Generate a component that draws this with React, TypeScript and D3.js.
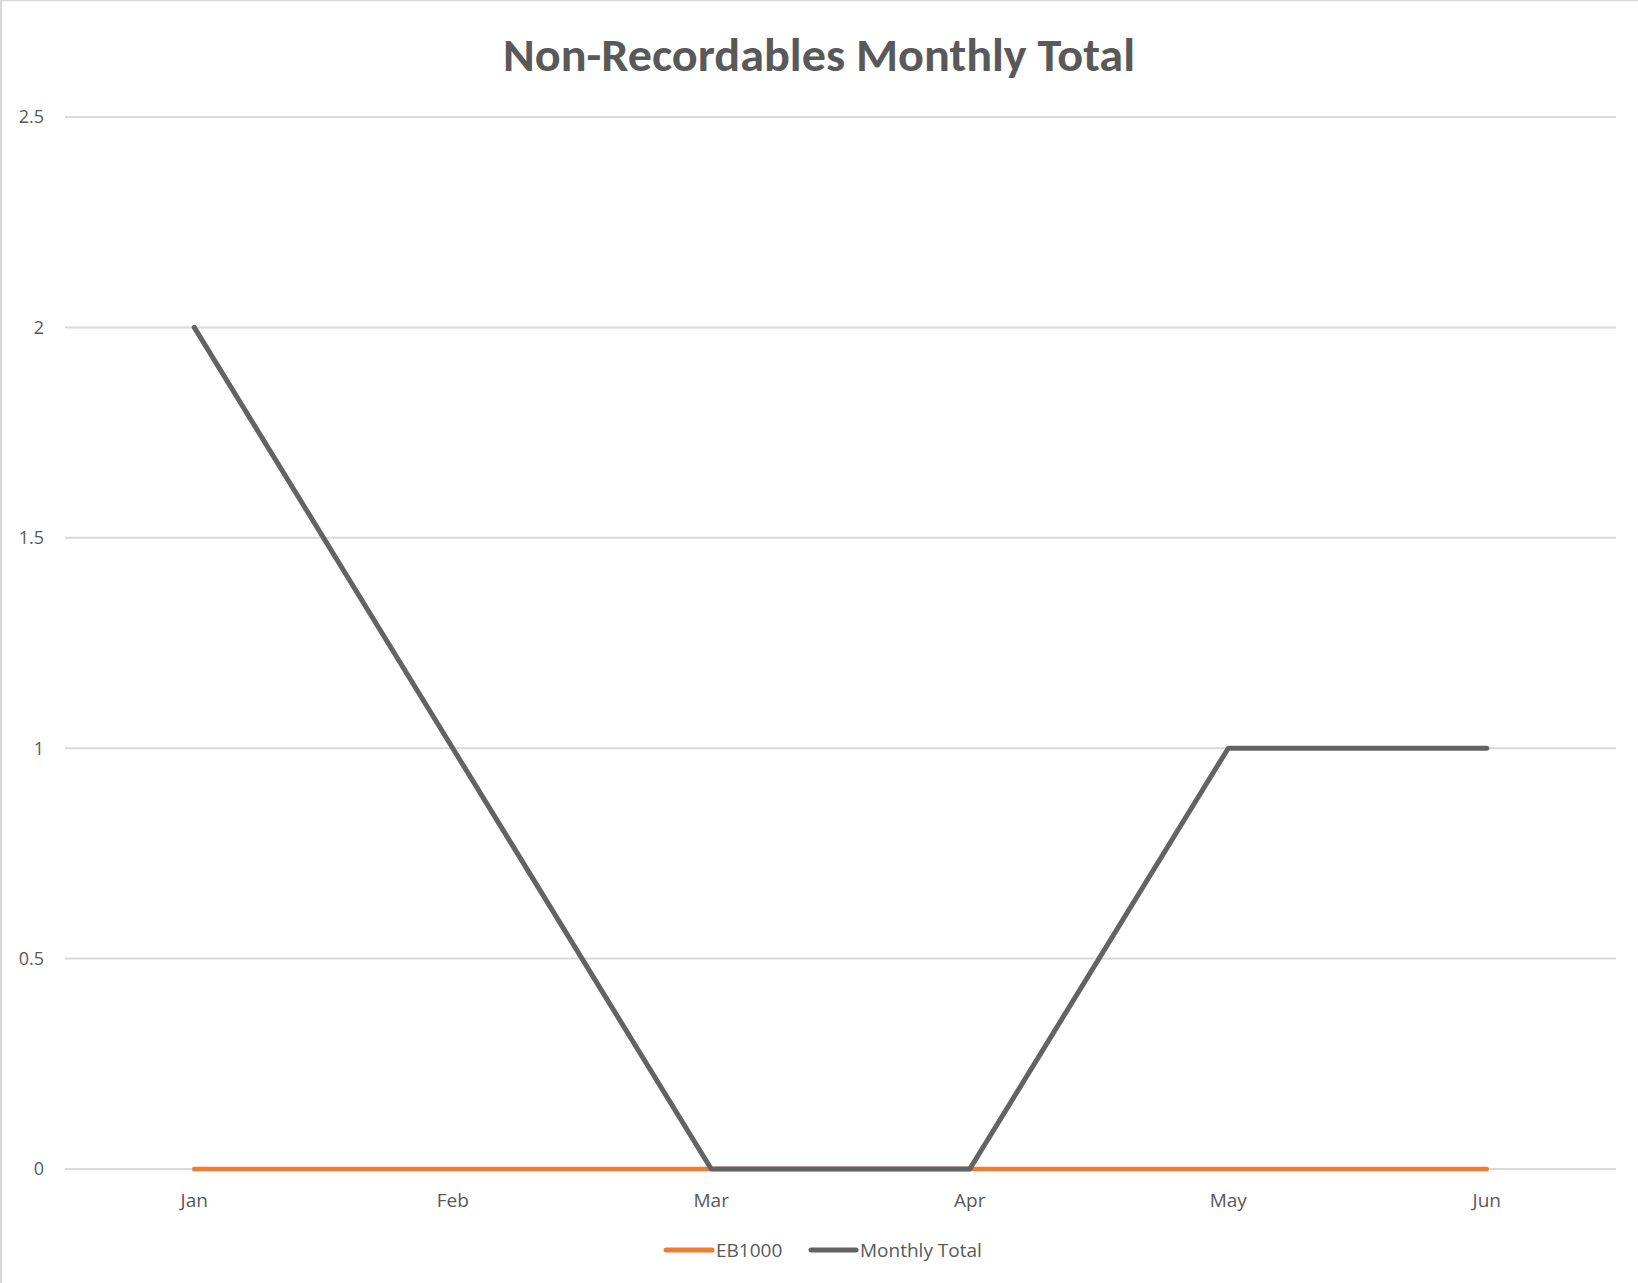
import React from "react";
import * as d3 from "d3";

const months = ["Jan", "Feb", "Mar", "Apr", "May", "Jun"];
const eb1000 = [0, 0, 0, 0, 0, 0];
const monthlyTotal = [2, 1, 0, 0, 1, 1];
const yTicks = [0, 0.5, 1, 1.5, 2, 2.5];
const seriesNames = ["EB1000", "Monthly Total"];
const seriesColors = ["#ED7D31", "#636363"];

const W = 1638;
const H = 1283;
const plot = { left: 65, right: 1616, top: 117, bottom: 1169 };
const TITLE_FONT = "Carlito, Calibri, Lato, sans-serif";
const FONT = "'Open Sans', sans-serif";

export default function App() {
  const x = d3.scalePoint<string>().domain(months).range([plot.left, plot.right]).padding(0.5);
  const y = d3.scaleLinear().domain([0, 2.5]).range([plot.bottom, plot.top]);
  const line = d3
    .line<number>()
    .x((_, i) => x(months[i]) as number)
    .y((d) => y(d));
  const series = [eb1000, monthlyTotal];

  return (
    <svg
      width={W}
      height={H}
      style={{ position: "absolute", left: 0, top: 0, background: "#fff" }}
      fontFamily={FONT}
    >
      <rect x={0} y={0} width={W} height={H} fill="#fff" />
      <line x1={1} y1={0} x2={1} y2={H} stroke="#D9D9D9" strokeWidth={2} />
      <line x1={0} y1={0.5} x2={W} y2={0.5} stroke="#D9D9D9" strokeWidth={1.5} />

      <text
        x={W / 2}
        y={71}
        textAnchor="middle"
        fontFamily={TITLE_FONT}
        fontSize={47}
        fontWeight="bold"
        fill="#595959"
        textLength={632}
        lengthAdjust="spacingAndGlyphs"
      >
        Non-Recordables Monthly Total
      </text>

      {yTicks.map((t) => (
        <g key={t}>
          <line x1={plot.left} x2={plot.right} y1={y(t)} y2={y(t)} stroke="#D9D9D9" strokeWidth={2} />
          <text x={44} y={y(t)} dy="0.35em" textAnchor="end" fontSize={18} fill="#595959">
            {t}
          </text>
        </g>
      ))}

      {months.map((m) => (
        <text key={m} x={x(m)} y={1200} dy="0.35em" textAnchor="middle" fontSize={19} fill="#595959">
          {m}
        </text>
      ))}

      {series.map((s, i) => (
        <path
          key={seriesNames[i]}
          d={line(s) ?? ""}
          fill="none"
          stroke={seriesColors[i]}
          strokeWidth={i === 0 ? 4.5 : 5}
          strokeLinecap="round"
          strokeLinejoin="round"
        />
      ))}

      {/* legend */}
      {[
        { x1: 666, x2: 712, tx: 716 },
        { x1: 811, x2: 856, tx: 860 },
      ].map((p, i) => (
        <g key={seriesNames[i]}>
          <line x1={p.x1} x2={p.x2} y1={1250} y2={1250} stroke={seriesColors[i]} strokeWidth={5} strokeLinecap="round" />
          <text x={p.tx} y={1250} dy="0.35em" fontSize={19} fill="#595959">
            {seriesNames[i]}
          </text>
        </g>
      ))}
    </svg>
  );
}
